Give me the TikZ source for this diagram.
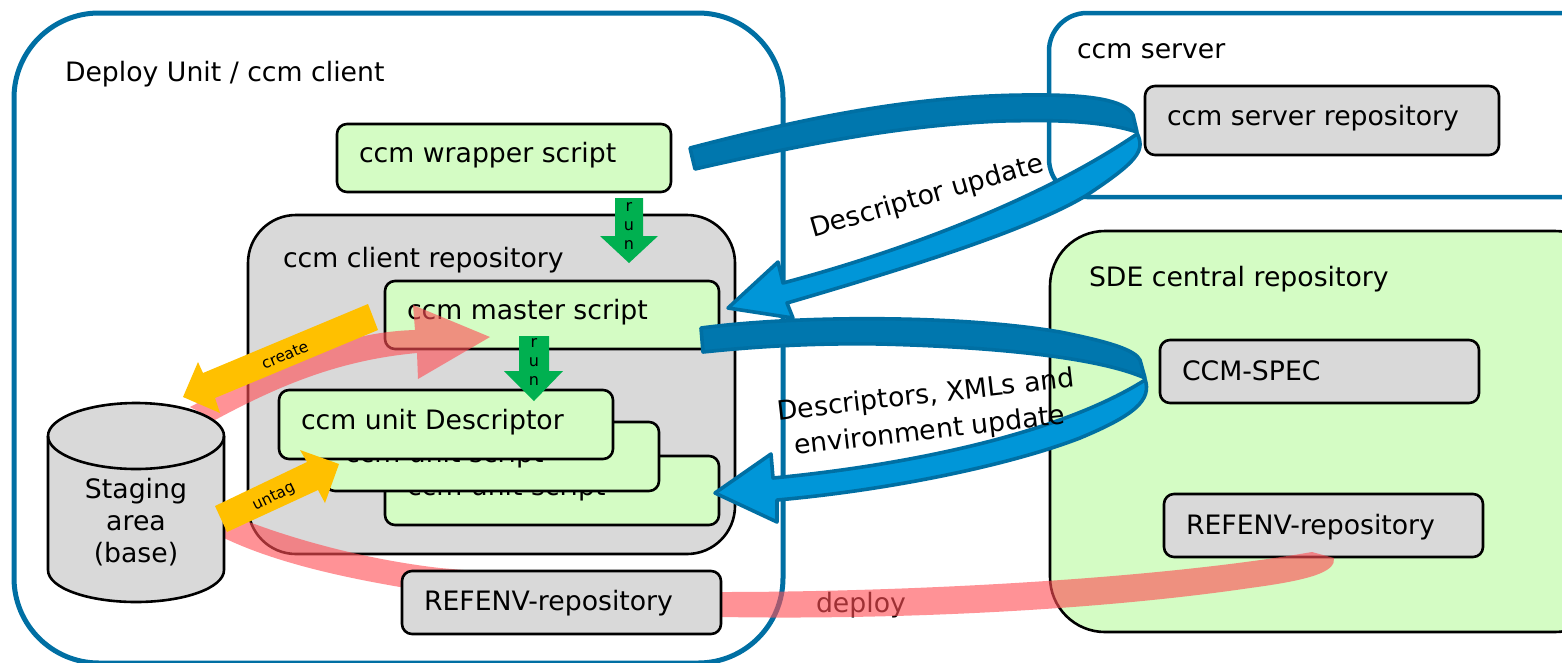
\documentclass[tikz,border=0pt]{standalone}
\usepackage{fontspec}
\setmainfont{DejaVu Sans}
\definecolor{bdark}{HTML}{0077AE}
\definecolor{bline}{HTML}{006FA3}
\definecolor{blight}{HTML}{0096D8}
\definecolor{gbox}{HTML}{D9D9D9}
\definecolor{lgreen}{HTML}{D4FCC4}
\definecolor{pinkc}{HTML}{FF4F55}
\definecolor{yell}{HTML}{FFC000}
\definecolor{grn}{HTML}{00B050}
\tikzset{
 x=1pt,y=-1pt,
 every node/.append style={outer sep=0pt},
 lbl/.style={font=\fontsize{26.7}{32}\selectfont,inner sep=0pt},
 small/.style={font=\fontsize{15.5}{17}\selectfont,inner sep=0pt},
 gnode/.style={draw=black,line width=2.6pt,fill=lgreen,rounded corners=10pt,anchor=north west,inner sep=0pt},
 gynode/.style={draw=black,line width=2.6pt,fill=gbox,rounded corners=10pt,anchor=north west,inner sep=0pt},
 pinkarrow/.style={fill=pinkc,fill opacity=.62,draw=none},
 bluefold/.style={draw=bline,line width=3.6pt,line join=round},
}
\newcommand{\boxnode}[8]{\node[#1,minimum width=#4pt,minimum height=#5pt] (#2) at #3 {};\node[lbl,anchor=base west] (#2t) at ([shift={(#6pt,-#7pt)}]#2.north west) {#8};}
\begin{document}
\begin{tikzpicture}
\useasboundingbox (0,0) rectangle (1562,662);
\begin{scope}
\clip (0,0) rectangle (1562,662);
\node[draw=bline,line width=5pt,rounded corners=85pt,minimum width=769pt,minimum height=650pt,anchor=north west,inner sep=0pt] (client) at (14,13) {};
\node[draw=bline,line width=4.5pt,rounded corners=38pt,minimum width=560pt,minimum height=184pt,anchor=north west,inner sep=0pt] (server) at (1049,13) {};
\node[draw=black,line width=2.6pt,fill=lgreen,rounded corners=55pt,minimum width=560pt,minimum height=401pt,anchor=north west,inner sep=0pt] (sde) at (1050,231) {};
\node[draw=black,line width=2.6pt,fill=gbox,rounded corners=48pt,minimum width=487pt,minimum height=339pt,anchor=north west,inner sep=0pt] (repo) at (248,215) {};
\end{scope}
\node[lbl,anchor=base west] (clientt) at (65,81) {Deploy Unit / ccm client};
\node[lbl,anchor=base west] (servert) at (1077,58) {ccm server};
\node[lbl,anchor=base west] (sdet) at (1089,286) {SDE central repository};
\node[lbl,anchor=base west] (repot) at (283,267) {ccm client repository};

\boxnode{gnode}{wrapper}{(337,124)}{334}{68}{22}{38}{ccm wrapper script}
\boxnode{gnode}{master}{(385,281)}{334}{68}{22}{38}{ccm master script}
\boxnode{gnode}{unitc}{(385,456)}{334}{69}{22}{39}{ccm unit script}
\boxnode{gnode}{unitb}{(325,422)}{334}{69}{20}{40}{ccm unit script}
\boxnode{gnode}{unita}{(279,390)}{334}{69}{22}{39}{ccm unit Descriptor}
\boxnode{gynode}{srvrepo}{(1145,86)}{354}{69}{22}{39}{ccm server repository}
\boxnode{gynode}{spec}{(1160,340)}{319}{63}{22}{40}{CCM-SPEC}
\boxnode{gynode}{refr}{(1164,494)}{319}{63}{22}{40}{REFENV-repository}
\node[lbl,anchor=base west,text=black] (deploy) at (816,612) {deploy};

% pink arrows
\path[pinkarrow] (190,407) .. controls (270,365) and (340,332) .. (415,330) -- (413,305) -- (490,337) -- (418,379) -- (417,353) .. controls (340,360) and (280,385) .. (215,420) -- cycle;
\path[pinkarrow] (224,512) .. controls (290,540) and (370,560) .. (440,568) -- (722,592) .. controls (900,592) and (1150,580) .. (1312,552) -- (1334,558) .. controls (1336,572) and (1310,580) .. (1250,588) .. controls (1100,610) and (900,620) .. (722,617) -- (400,587) .. controls (330,575) and (270,560) .. (224,538) -- cycle;

\boxnode{gynode}{refl}{(402,571)}{319}{63}{22}{39}{REFENV-repository}

% cylinder
\path[draw=black,line width=2.6pt,fill=gbox] (48,436) -- (48,570) .. controls (48,588) and (88,602) .. (136,602) .. controls (184,602) and (224,588) .. (224,570) -- (224,436) .. controls (224,418) and (184,403) .. (136,403) .. controls (88,403) and (48,418) .. (48,436) -- cycle;
\path[draw=black,line width=2.6pt] (48,436) .. controls (48,454) and (88,469) .. (136,469) .. controls (184,469) and (224,454) .. (224,436);
\node[lbl,align=center,anchor=center,font=\fontsize{26.7}{32}\selectfont] (stage) at (136,522) {Staging\\area\\(base)};

% yellow arrows
\fill[yell] (368,304) -- (378,330) -- (215,398) -- (220,413) -- (183,397) -- (198,362) -- (203,373) -- cycle;
\node[small,rotate=23] (create) at (285,355) {create};
\fill[yell] (215,506) -- (227,532) -- (318,490) -- (325,503) -- (339,464) -- (300,450) -- (307,462) -- cycle;
\node[small,rotate=26] (untag) at (274,497) {untag};

% green arrows
\fill[grn] (615,198) -- (643,198) -- (643,236) -- (658,236) -- (629,263) -- (600,236) -- (615,236) -- cycle;
\fill[grn] (519,336) -- (549,336) -- (549,371) -- (563,371) -- (534,401) -- (504,371) -- (519,371) -- cycle;
\node[small,align=center,font=\fontsize{16}{19}\selectfont] (run1) at (629,226) {r\\u\\n};
\node[small,align=center,font=\fontsize{16}{19}\selectfont] (run2) at (534,362) {r\\u\\n};

% blue arrow 1
\path[bluefold,fill=blight] (1137,133) .. controls (1145,150) and (1140,160) .. (1087,195) .. controls (1030,230) and (900,270) .. (787,303) -- (793,318) -- (728,308) -- (778,262) -- (783,283) .. controls (900,252) and (1040,200) .. (1137,134) -- cycle;
\path[bluefold,fill=bdark] (690,148) .. controls (790,122) and (910,94) .. (1040,95) .. controls (1090,95) and (1125,100) .. (1133,115) -- (1137,132) .. controls (1100,120) and (1050,120) .. (1003,121) .. controls (900,125) and (800,145) .. (695,169) -- cycle;
\node[lbl,rotate=16,font=\fontsize{26.7}{32}\selectfont] (desc) at (927,197) {Descriptor update};

% blue arrow 2
\path[bluefold,fill=blight] (1145,379) .. controls (1152,400) and (1135,415) .. (1080,438) .. controls (1010,465) and (890,490) .. (777,500) -- (777,522) -- (715,493) -- (771,454) -- (773,478) .. controls (880,468) and (1050,440) .. (1145,380) -- cycle;
\path[bluefold,fill=bdark] (701,328) .. controls (800,315) and (960,315) .. (1060,332) .. controls (1110,342) and (1135,350) .. (1140,360) -- (1145,378) .. controls (1100,358) and (1000,347) .. (880,344) .. controls (820,343) and (760,346) .. (703,352) -- cycle;
\node[lbl,rotate=6.5,align=center,font=\fontsize{26.7}{36}\selectfont] (desc2) at (928,414) {Descriptors, XMLs and\\environment update};
\end{tikzpicture}
\end{document}
